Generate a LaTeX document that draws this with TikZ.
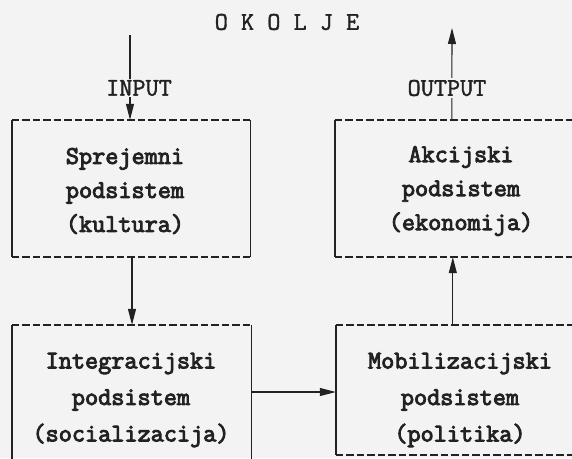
\documentclass[tikz,border=0pt]{standalone}
\usepackage{fontspec}
\newfontfamily\typeb{Latin Modern Mono}[FakeBold=3.6]
\newfontfamily\typer{Latin Modern Mono}[FakeBold=1.6]
\usetikzlibrary{arrows.meta,calc}
\definecolor{ink}{HTML}{222222}
\definecolor{paper}{HTML}{F3F3F3}
\begin{document}
\begin{tikzpicture}[x=1pt,y=-1pt,
  txt/.style={font=\fontsize{25.5}{34}\selectfont\typeb, text=ink, align=center, inner sep=0pt},
  txtb/.style={txt, font=\fontsize{25.5}{36.5}\selectfont\typeb},
  lbl/.style={font=\fontsize{25.5}{28}\selectfont\typer, text=ink, fill=paper, inner sep=1.5pt},
  box/.style={rectangle, inner sep=0pt},
  dsh/.style={draw=ink, line width=1.5pt, dash pattern=on 7.5pt off 3pt},
  sld/.style={draw=ink, line width=1.4pt},
  arr/.style={draw=ink, line width=1.1pt, -{Triangle[length=16pt,width=8pt]}}]
\fill[paper] (0,0) rectangle (572,458);
\useasboundingbox (0,0) rectangle (572,458);
\clip (0,0) rectangle (572,458);

% boxes
\node[box, minimum width=238pt, minimum height=137pt] (tl) at (131,188.5) {};
\node[box, minimum width=265pt, minimum height=137pt] (tr) at (467.5,188.5) {};
\node[box, minimum width=239pt, minimum height=155pt] (bl) at (131.5,402.5) {};
\node[box, minimum width=264pt, minimum height=130pt] (br) at (468,390) {};

\foreach \b in {tl,tr,bl,br}{
  \draw[dsh] (\b.north west) -- (\b.north east);
  \draw[dsh] (\b.south west) -- (\b.south east);
  \draw[sld] (\b.north west) -- (\b.south west);
  \draw[sld] (\b.north east) -- (\b.south east);
}

% texts
\node[txt] (tlt) at (125,191) {Sprejemni\\podsistem\\(kultura)};
\node[txt] (trt) at (461,191) {Akcijski\\podsistem\\(ekonomija)};
\node[txtb] (blt) at (131,400) {Integracijski\\podsistem\\(socializacija)};
\node[txtb] (brt) at (460,400) {Mobilizacijski\\podsistem\\(politika)};

% environment
\node[font=\fontsize{25.5}{28}\selectfont\typer, text=ink, inner sep=0pt] (okolje) at (287,22) {O K O L J E};

\coordinate (inTop) at (130,35);
\coordinate (outTop) at (452,28);
\draw[arr] (inTop) -- (inTop |- tl.north);
\draw[arr] ([xshift=117pt]tr.north west) -- (outTop);
\node[lbl] (input) at (139,88) {INPUT};
\node[lbl] (output) at (447,88) {OUTPUT};

% internal flows
\draw[arr] ([xshift=1pt]tl.south) -- ([xshift=1pt]tl.south |- bl.north);
\draw[arr] ([xshift=117pt]br.north west) -- ([xshift=117pt]br.north west |- tr.south);
\draw[arr] ([yshift=10.5pt]bl.east) -- ([yshift=10.5pt]bl.east -| br.west);
\end{tikzpicture}
\end{document}
